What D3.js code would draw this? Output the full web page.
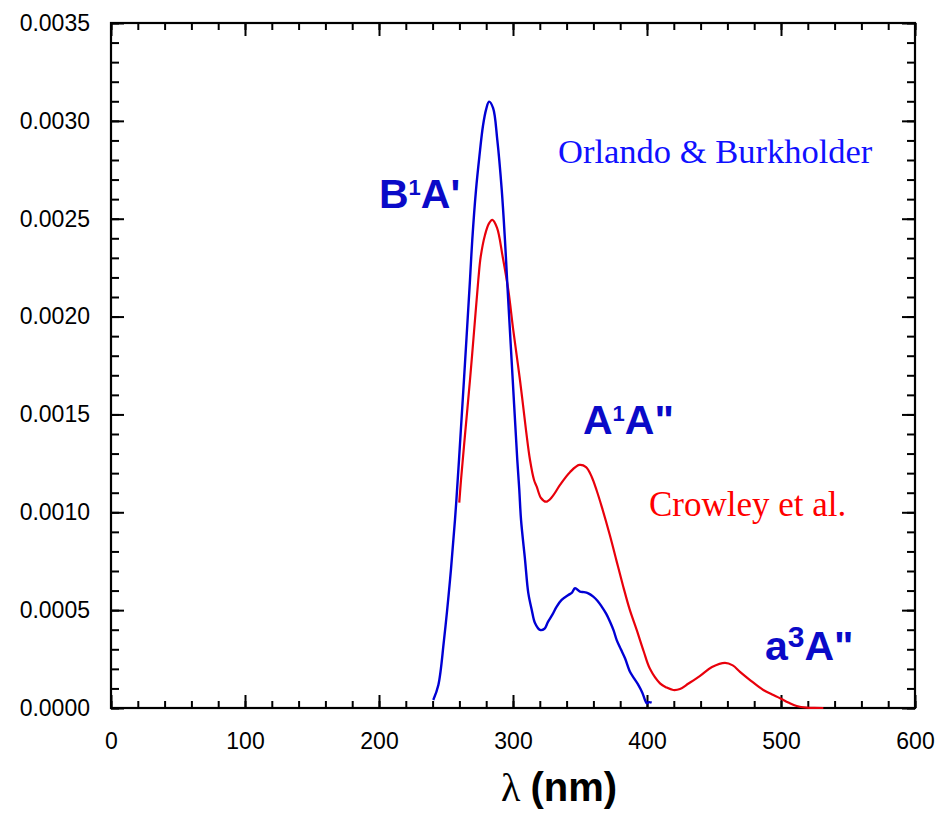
<!DOCTYPE html>
<html>
<head>
<meta charset="utf-8">
<script src="https://cdn.jsdelivr.net/npm/d3@7"></script>
<style>
  body { margin: 0; background: #fff; }
  .tick text { font-family: "Liberation Sans", Arial, sans-serif; font-size: 23px; fill: #000; }
  .domain { display: none; }
  .tick line { stroke: #000; stroke-width: 2; }
</style>
</head>
<body>
<div id="chart"></div>
<script>
// wavelength (nm) / cross section (units of 1e-3)
const orlandoNm = [240.5, 244.3, 248.5, 253.0, 256.7, 259.7, 263.4, 267.9, 269.6, 272.4, 274.9, 277.6, 280.0, 282.1, 285.1, 288.3, 291.6, 294.0, 296.0, 299.8, 303.2, 304.7, 306.0, 309.0, 311.4, 314.0, 316.4, 320.1, 323.5, 326.1, 329.5, 332.6, 336.3, 341.3, 344.0, 346.3, 350.0, 353.0, 356.2, 359.9, 363.0, 366.2, 369.5, 372.4, 375.0, 377.4, 380.5, 383.6, 387.3, 390.5, 393.5, 396.5, 398.5, 399.8, 401.5, 403.5];
const orlandoVal = [0.041, 0.118, 0.347, 0.654, 0.961, 1.267, 1.676, 2.187, 2.391, 2.647, 2.817, 2.975, 3.06, 3.098, 3.066, 2.902, 2.647, 2.391, 2.136, 1.676, 1.267, 1.114, 0.961, 0.756, 0.588, 0.501, 0.434, 0.399, 0.405, 0.440, 0.478, 0.518, 0.552, 0.577, 0.590, 0.612, 0.594, 0.592, 0.586, 0.569, 0.548, 0.518, 0.482, 0.441, 0.398, 0.347, 0.300, 0.254, 0.185, 0.150, 0.118, 0.078, 0.041, 0.024, 0.030, 0.027];

const crowleyNm = [259.9, 261.2, 264.5, 267.9, 271.0, 274.1, 275.9, 279.1, 282.0, 284.6, 288.1, 292.3, 296.5, 300.2, 305.2, 309.7, 312.7, 315.7, 317.7, 320.9, 324.6, 329.1, 335.1, 342.5, 349.5, 354.5, 358.7, 362.5, 366.2, 372.4, 377.4, 382.3, 387.0, 392.3, 397.5, 402.2, 409.7, 414.5, 419.6, 424.6, 431.0, 439.6, 448.5, 458.2, 464.0, 469.4, 476.9, 486.8, 493.0, 499.3, 505.5, 511.7, 519.2, 525.0, 531.6];
const crowleyVal = [1.049, 1.165, 1.420, 1.676, 1.930, 2.187, 2.306, 2.417, 2.475, 2.494, 2.453, 2.306, 2.136, 1.931, 1.676, 1.420, 1.267, 1.165, 1.131, 1.073, 1.054, 1.078, 1.140, 1.205, 1.242, 1.231, 1.182, 1.110, 1.029, 0.880, 0.748, 0.620, 0.505, 0.399, 0.290, 0.200, 0.126, 0.105, 0.092, 0.097, 0.125, 0.164, 0.209, 0.231, 0.218, 0.185, 0.143, 0.092, 0.070, 0.050, 0.028, 0.010, 0.0015, 0.0003, 0];

const xTicks = [0, 100, 200, 300, 400, 500, 600];
const yTicks = [0, 0.0005, 0.001, 0.0015, 0.002, 0.0025, 0.003, 0.0035];

const width = 935, height = 813;
const margins = { top: 23, right: 20, bottom: 105, left: 111 };

const svg = d3.select("#chart").append("svg")
  .attr("width", width)
  .attr("height", height);

const x = d3.scaleLinear().domain([0, 600]).range([margins.left, width - margins.right]);
const y = d3.scaleLinear().domain([0, 0.0035]).range([height - margins.bottom, margins.top]);

const xMinor = d3.range(0, 601, 20);
const yMinor = d3.range(0, 36).map(i => i * 0.0001);

// minor ticks, all four sides, pointing inward
svg.append("g").attr("transform", `translate(0,${y(0)})`)
  .call(d3.axisBottom(x).tickValues(xMinor).tickSize(-7).tickFormat(""));
svg.append("g").attr("transform", `translate(0,${y(0.0035)})`)
  .call(d3.axisTop(x).tickValues(xMinor).tickSize(-7).tickFormat(""));
svg.append("g").attr("transform", `translate(${x(0)},0)`)
  .call(d3.axisLeft(y).tickValues(yMinor).tickSize(-8).tickFormat(""));
svg.append("g").attr("transform", `translate(${x(600)},0)`)
  .call(d3.axisRight(y).tickValues(yMinor).tickSize(-8).tickFormat(""));

// major ticks with labels
svg.append("g").attr("class", "x-axis")
  .attr("transform", `translate(0,${y(0)})`)
  .call(d3.axisBottom(x).tickValues(xTicks).tickSize(-13).tickPadding(25).tickFormat(d3.format("d")));
svg.append("g").attr("transform", `translate(0,${y(0.0035)})`)
  .call(d3.axisTop(x).tickValues(xTicks).tickSize(-13).tickFormat(""));
svg.append("g").attr("class", "y-axis")
  .attr("transform", `translate(${x(0)},0)`)
  .call(d3.axisLeft(y).tickValues(yTicks).tickSize(-13).tickPadding(21).tickFormat(d3.format(".4f")));
svg.append("g").attr("transform", `translate(${x(600)},0)`)
  .call(d3.axisRight(y).tickValues(yTicks).tickSize(-13).tickFormat(""));

// frame
svg.append("rect")
  .attr("x", x(0)).attr("y", y(0.0035))
  .attr("width", x(600) - x(0)).attr("height", y(0) - y(0.0035))
  .attr("fill", "none").attr("stroke", "#000").attr("stroke-width", 2.2);

const line = d3.line()
  .x(d => x(d[0]))
  .y(d => y(d[1] / 1000))
  .curve(d3.curveCatmullRom.alpha(0.5));

svg.append("path")
  .datum(crowleyNm.map((d, i) => [d, crowleyVal[i]]))
  .attr("d", line)
  .attr("fill", "none").attr("stroke", "#e8000b").attr("stroke-width", 2.2);

svg.append("path")
  .datum(orlandoNm.map((d, i) => [d, orlandoVal[i]]))
  .attr("d", line)
  .attr("fill", "none").attr("stroke", "#0000d4").attr("stroke-width", 2.4);

// source labels
svg.append("text")
  .attr("x", 558).attr("y", 163)
  .attr("font-family", "Liberation Serif, Times New Roman, serif")
  .attr("font-size", 34.5).attr("fill", "#1010ff")
  .text("Orlando & Burkholder");

svg.append("text")
  .attr("x", 649).attr("y", 516)
  .attr("font-family", "Liberation Serif, Times New Roman, serif")
  .attr("font-size", 35).attr("fill", "#ff0000")
  .text("Crowley et al.");

// state labels
function stateLabel(px, py, a, sup, supSize, b) {
  const t = svg.append("text")
    .attr("x", px).attr("y", py)
    .attr("font-family", "Liberation Sans, Arial, sans-serif")
    .attr("font-weight", "bold").attr("font-size", 41)
    .attr("fill", "#0a0ac8");
  t.append("tspan").text(a);
  t.append("tspan").attr("font-size", supSize).attr("dy", -13).text(sup);
  t.append("tspan").attr("dy", 13).text(b);
}
stateLabel(379, 208, "B", "1", 22, "A'");
stateLabel(583, 434, "A", "1", 22, "A\"");
stateLabel(765, 660, "a", "3", 30, "A\"");

// x axis title
const title = svg.append("text")
  .attr("x", 559).attr("y", 801)
  .attr("text-anchor", "middle")
  .attr("font-size", 40);
title.append("tspan")
  .attr("font-family", "Liberation Serif, Times New Roman, serif")
  .text("λ ");
title.append("tspan")
  .attr("font-family", "Liberation Sans, Arial, sans-serif")
  .attr("font-weight", "bold")
  .text("(nm)");
</script>
</body>
</html>
